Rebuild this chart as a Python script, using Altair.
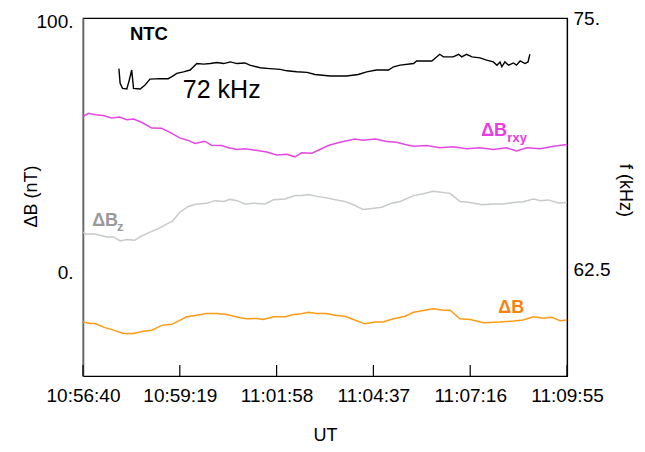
import altair as alt
import pandas as pd

# x in seconds after 10:56:40 UT
tick_seconds = [0, 159, 318, 477, 636, 795]
tick_labels = ["10:56:40", "10:59:19", "11:01:58", "11:04:37", "11:07:16", "11:09:55"]

# Delta B_rxy (nT)
brxy_t = [0, 9, 20, 33, 47, 60, 72, 83, 96, 113, 129, 142, 159, 173, 184, 200, 211, 228, 239, 253,
          266, 280, 302, 318, 335, 348, 359, 376, 389, 403, 422, 447, 460, 480, 499, 515, 529, 543, 565, 586,
          608, 630, 652, 674, 696, 712, 729, 751, 773, 795]
brxy_v = [60.9, 62.2, 61.6, 61.3, 60.3, 60.7, 59.6, 59.9, 58.6, 56.3, 56.2, 54.7, 52.4, 51.4, 50.2, 51.1, 49.5, 49.4, 48.5, 47.8,
          48.1, 47.6, 46.8, 45.6, 45.9, 44.9, 46.5, 46.3, 47.8, 49.4, 50.7, 52.0, 51.5, 52.0, 51.0, 50.7, 49.8, 49.1, 49.4, 48.5,
          48.9, 48.1, 48.5, 47.8, 48.5, 47.2, 48.5, 48.1, 49.1, 49.8]

# Delta B_z (nT)
bz_t = [0, 6, 17, 28, 39, 50, 61, 72, 85, 96, 110, 124, 138, 148, 159, 173, 187, 203, 217, 231,
        242, 253, 266, 280, 299, 313, 332, 348, 359, 370, 384, 400, 417, 430, 444, 460, 471, 491, 507, 521,
        543, 559, 575, 603, 619, 636, 655, 674, 690, 707, 723, 740, 751, 764, 781, 795]
bz_v = [15.0, 14.1, 14.4, 13.8, 13.1, 13.1, 11.5, 12.1, 11.8, 13.4, 15.0, 16.4, 18.3, 19.6, 22.9, 25.2, 26.2, 26.5, 27.5, 27.2,
        28.0, 27.5, 26.2, 26.5, 26.2, 27.9, 28.2, 29.5, 29.5, 29.9, 29.2, 28.6, 27.8, 27.2, 25.9, 24.0, 24.3, 24.9, 26.5, 27.2,
        29.5, 30.2, 31.2, 30.4, 27.2, 26.8, 25.9, 26.2, 26.2, 26.8, 27.1, 28.1, 27.5, 27.8, 26.6, 26.8]

# Delta B (nT)
b_t = [0, 12, 20, 36, 50, 66, 83, 99, 113, 129, 146, 159, 170, 184, 203, 220, 236, 258, 269, 285,
       296, 313, 332, 346, 359, 370, 384, 400, 414, 430, 444, 463, 480, 493, 510, 529, 543, 559, 575, 592,
       603, 619, 636, 658, 685, 707, 723, 740, 756, 770, 784, 795]
b_v = [-20.7, -21.3, -21.3, -22.9, -23.9, -25.2, -25.2, -24.3, -23.9, -22.0, -21.6, -20.0, -18.6, -18.1, -17.3, -17.3, -17.7, -19.0, -19.4, -19.3,
       -19.7, -18.6, -18.6, -17.7, -17.4, -16.8, -17.3, -17.3, -18.0, -18.4, -19.7, -21.4, -20.7, -20.7, -19.4, -18.4, -16.8, -16.1, -15.4, -16.0,
       -16.0, -19.4, -19.7, -21.0, -20.7, -20.3, -19.9, -18.6, -19.2, -18.8, -20.2, -19.9]

# NTC frequency (kHz)
ntc_t = [59, 61, 65, 72, 76, 80, 83, 94, 102, 110, 127, 140, 146, 154, 165, 176, 187, 198, 209, 220,
         231, 242, 253, 266, 274, 291, 307, 324, 335, 351, 368, 381, 406, 433, 452, 466, 482, 502, 510, 521,
         543, 548, 573, 586, 592, 608, 617, 622, 630, 639, 652, 663, 674, 680, 685, 688, 693, 699, 707, 712,
         718, 726, 731, 734]
ntc_f = [72.49, 71.76, 71.51, 71.48, 71.92, 72.42, 71.51, 71.48, 71.68, 71.97, 71.99, 71.99, 72.09, 72.25, 72.33, 72.42, 72.74, 72.71, 72.74, 72.79,
         72.74, 72.82, 72.74, 72.77, 72.66, 72.53, 72.49, 72.45, 72.38, 72.33, 72.30, 72.20, 72.12, 72.12, 72.20, 72.33, 72.42, 72.42, 72.58, 72.66,
         72.74, 72.87, 72.87, 73.20, 73.07, 73.07, 73.20, 73.07, 73.20, 73.07, 73.02, 72.91, 72.82, 72.66, 72.82, 72.58, 72.82, 72.66, 72.77, 72.66,
         72.87, 72.74, 72.82, 73.20]

# annotations (placed in data coordinates of the left axis)
ann_text = ["NTC", "72 kHz", "ΔB", "rxy", "ΔB", "z", "ΔB"]
ann_t = [77, 164, 654, 697, 15, 56, 682]
ann_v = [93.6, 71.6, 55.0, 52.3, 19.6, 16.9, -15.0]
ann_size = [18.5, 25, 18, 13, 18, 13, 18]
ann_color = ["#000000", "#000000", "#e83de0", "#e83de0", "#9a9a9a", "#9a9a9a", "#f5820a"]
ann_weight = ["bold", "normal", "bold", "bold", "bold", "bold", "bold"]

series_names = ["brxy", "bz", "b"]
series_colors = ["#e448e4", "#c6caca", "#ff9a14"]

FONT = "Liberation Sans"

lines_df = pd.concat([
    pd.DataFrame({"t": brxy_t, "v": brxy_v, "series": "brxy"}),
    pd.DataFrame({"t": bz_t, "v": bz_v, "series": "bz"}),
    pd.DataFrame({"t": b_t, "v": b_v, "series": "b"}),
])
ntc_df = pd.DataFrame({"t": ntc_t, "f": ntc_f})
ann_df = pd.DataFrame({"label": ann_text, "t": ann_t, "v": ann_v, "size": ann_size,
                       "color": ann_color, "weight": ann_weight})
tick_df = pd.DataFrame({"t": tick_seconds})

label_expr = ("[" + ",".join(f"'{l}'" for l in tick_labels) + "][indexof(["
              + ",".join(str(s) for s in tick_seconds) + "], datum.value)]")

H = 358

x_enc = alt.X("t:Q",
              scale=alt.Scale(domain=[0, 795], nice=False, zero=False),
              axis=alt.Axis(values=tick_seconds, labelExpr=label_expr, title="UT",
                            ticks=False, tickSize=0, grid=False, labelPadding=10,
                            titlePadding=21, labelFlush=False, domainColor="#000000",
                            domainWidth=1.2, labelFontSize=19, titleFontSize=18))

y_left = alt.Y("v:Q",
               scale=alt.Scale(domain=[-42.1, 100], nice=False, zero=False),
               axis=alt.Axis(values=[0, 100],
                             labelExpr="datum.value == 100 ? '100.' : '0.'",
                             title="ΔB (nT)", ticks=False, tickSize=0, grid=False,
                             labelPadding=10, labelOffset=3, domainColor="#666666",
                             domainWidth=1.6, labelFontSize=19, titleFontSize=18,
                             titleX=-52, titleY=178, titleBaseline="middle"))

lines = alt.Chart(lines_df).mark_line(strokeWidth=1.5).encode(
    x=x_enc, y=y_left,
    color=alt.Color("series:N", scale=alt.Scale(domain=series_names, range=series_colors), legend=None),
)

ticks = alt.Chart(tick_df).mark_rule(color="#000000", strokeWidth=1.2).encode(
    x=x_enc, y=alt.value(H - 11), y2=alt.value(H)
)

txt_bold = alt.Chart(ann_df).transform_filter("datum.weight == 'bold'").mark_text(
    align="left", baseline="middle", font=FONT, fontWeight="bold"
).encode(x=x_enc, y=y_left, text="label:N",
         size=alt.Size("size:Q", scale=None), color=alt.Color("color:N", scale=None))

txt_norm = alt.Chart(ann_df).transform_filter("datum.weight == 'normal'").mark_text(
    align="left", baseline="middle", font=FONT, fontWeight="normal"
).encode(x=x_enc, y=y_left, text="label:N",
         size=alt.Size("size:Q", scale=None), color=alt.Color("color:N", scale=None))

left_layer = alt.layer(lines, ticks, txt_bold, txt_norm)

ntc = alt.Chart(ntc_df).mark_line(color="#000000", strokeWidth=1.4).encode(
    x=x_enc,
    y=alt.Y("f:Q",
            scale=alt.Scale(domain=[57.24, 75], nice=False, zero=False),
            axis=alt.Axis(orient="right", values=[62.5, 75],
                          labelExpr="datum.value == 75 ? '75.' : '62.5'",
                          title="f (kHz)", ticks=False, tickSize=0, grid=False,
                          labelPadding=6, domainColor="#000000", domainWidth=1.2,
                          labelFontSize=19, titleFontSize=18,
                          titleX=57, titleY=172, titleBaseline="middle")),
)

chart = alt.layer(left_layer, ntc).resolve_scale(y="independent").properties(
    width=484, height=H,
    autosize=alt.AutoSizeParams(type="none"),
    padding={"left": 75, "top": 10, "right": 70, "bottom": 70},
).configure_view(stroke="#000000", strokeWidth=1.2).configure_axis(
    labelFont=FONT, titleFont=FONT, labelColor="#000000", titleColor="#000000",
    titleFontWeight="normal"
)

chart.save("out.html", embed_options={"renderer": "svg", "actions": False})
